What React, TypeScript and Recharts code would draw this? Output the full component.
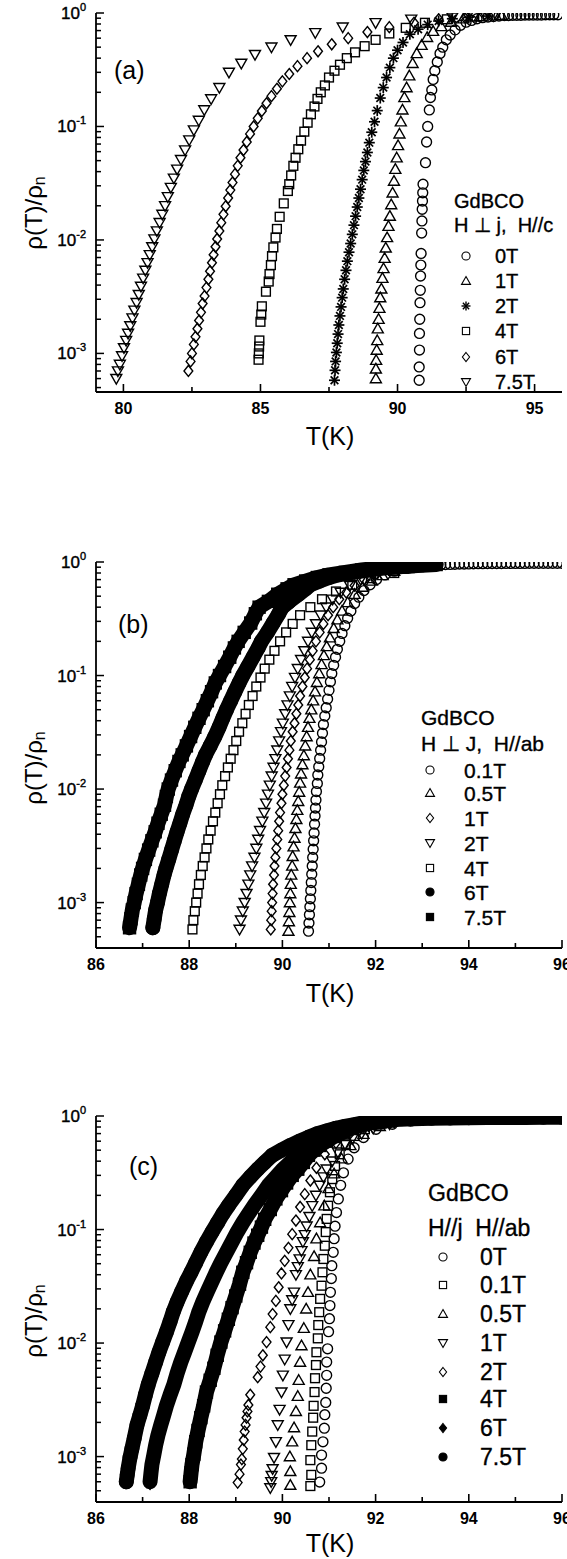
import React from 'react';
import { ComposedChart, Scatter, Line, XAxis, YAxis } from 'recharts';

type Pt = [number, number];
type Kind = 'circle' | 'square' | 'up' | 'down' | 'diamond' | 'star';

const FONT = '"Liberation Sans", Arial, sans-serif';

// tick values shared by the three panels
const Y_MAJOR = [1e-3, 1e-2, 1e-1, 1];
const Y_EXP = ['-3', '-2', '-1', '0'];
const Y_MINOR = [
  2e-4, 3e-4, 4e-4, 5e-4, 6e-4, 7e-4, 8e-4, 9e-4,
  2e-3, 3e-3, 4e-3, 5e-3, 6e-3, 7e-3, 8e-3, 9e-3,
  2e-2, 3e-2, 4e-2, 5e-2, 6e-2, 7e-2, 8e-2, 9e-2,
  0.2, 0.3, 0.4, 0.5, 0.6, 0.7, 0.8, 0.9,
];
const A_X_MAJOR = [80, 85, 90, 95];
const A_X_MINOR = [82.5, 87.5, 92.5];
const BC_X_MAJOR = [86, 88, 90, 92, 94, 96];
const BC_X_MINOR = [87, 89, 91, 93, 95];

// ---------- panel (a): H ⊥ j, H//c  [T (K), rho/rho_n] ----------
const a0T: Pt[] = [
  [90.79, 5.8e-4], [90.79, 7.6e-4], [90.8, 1.07e-3], [90.8, 1.5e-3], [90.81, 2.0e-3], [90.82, 2.8e-3],
  [90.83, 3.6e-3], [90.84, 4.8e-3], [90.85, 6.0e-3], [90.86, 7.6e-3], [90.88, 1.15e-2], [90.89, 1.47e-2],
  [90.9, 1.86e-2], [90.91, 2.2e-2], [90.92, 2.6e-2], [90.93, 3.1e-2], [91.02, 4.8e-2], [91.06, 7.3e-2],
  [91.1, 0.1], [91.16, 0.14], [91.2, 0.18], [91.25, 0.21], [91.3, 0.26], [91.36, 0.31], [91.45, 0.37],
  [91.55, 0.44], [91.65, 0.5], [91.78, 0.58], [91.92, 0.64], [92.1, 0.71], [92.3, 0.78], [92.5, 0.83],
  [92.7, 0.86], [92.9, 0.89], [93.1, 0.91], [93.3, 0.92], [93.5, 0.93], [93.7, 0.94], [93.9, 0.95],
  [94.05, 0.95], [94.2, 0.955], [94.35, 0.955], [94.5, 0.955], [94.65, 0.96], [94.8, 0.96], [94.95, 0.96],
  [95.1, 0.96], [95.25, 0.96], [95.4, 0.965], [95.55, 0.965], [95.7, 0.965], [95.85, 0.965],
];
const a1T: Pt[] = [
  [89.21, 6.0e-4], [89.21, 7.3e-4], [89.22, 8.7e-4], [89.24, 1.07e-3], [89.26, 1.3e-3], [89.28, 1.65e-3],
  [89.31, 2.0e-3], [89.34, 2.5e-3], [89.37, 3.1e-3], [89.41, 3.7e-3], [89.45, 4.6e-3], [89.49, 5.6e-3],
  [89.53, 6.9e-3], [89.57, 8.5e-3], [89.62, 1.05e-2], [89.67, 1.32e-2], [89.72, 1.62e-2], [89.77, 2.05e-2],
  [89.82, 2.6e-2], [89.87, 3.3e-2], [89.92, 4.2e-2], [89.97, 5.3e-2], [90.02, 6.8e-2], [90.07, 8.6e-2],
  [90.12, 0.11], [90.18, 0.14], [90.25, 0.18], [90.33, 0.22], [90.43, 0.28], [90.55, 0.36], [90.7, 0.44],
  [90.88, 0.52], [91.08, 0.61], [91.3, 0.69], [91.6, 0.76], [91.95, 0.83], [92.4, 0.89], [93.0, 0.93],
  [93.8, 0.95],
];
const a2T: Pt[] = [
  [87.7, 5.8e-4], [87.72, 7.1e-4], [87.74, 8.5e-4], [87.77, 1.02e-3], [87.8, 1.23e-3], [87.83, 1.48e-3],
  [87.86, 1.78e-3], [87.9, 2.14e-3], [87.94, 2.57e-3], [87.98, 3.1e-3], [88.02, 3.7e-3], [88.07, 4.5e-3],
  [88.12, 5.4e-3], [88.17, 6.5e-3], [88.23, 7.8e-3], [88.29, 9.3e-3], [88.35, 1.12e-2], [88.41, 1.35e-2],
  [88.47, 1.62e-2], [88.53, 1.95e-2], [88.59, 2.34e-2], [88.65, 2.8e-2], [88.71, 3.4e-2], [88.77, 4.1e-2],
  [88.83, 4.9e-2], [88.9, 5.9e-2], [88.97, 7.2e-2], [89.06, 8.9e-2], [89.16, 0.11], [89.26, 0.138],
  [89.37, 0.178], [89.48, 0.22], [89.6, 0.27], [89.72, 0.33], [89.85, 0.4], [90.0, 0.47], [90.2, 0.55],
  [90.45, 0.65], [90.75, 0.72], [91.1, 0.79], [91.5, 0.85], [92.0, 0.89], [92.6, 0.92], [93.3, 0.94],
];
const a4T: Pt[] = [
  [84.93, 8.8e-4], [84.94, 1.0e-3], [84.95, 1.15e-3], [84.96, 1.3e-3], [85.0, 1.9e-3], [85.03, 2.2e-3],
  [85.05, 2.6e-3], [85.2, 3.5e-3], [85.3, 4.3e-3], [85.33, 5.0e-3], [85.38, 6.0e-3], [85.42, 7.2e-3],
  [85.47, 8.6e-3], [85.55, 1.05e-2], [85.6, 1.25e-2], [85.7, 1.6e-2], [85.85, 2.1e-2], [86.0, 2.7e-2],
  [86.05, 3.1e-2], [86.12, 3.7e-2], [86.2, 4.5e-2], [86.28, 5.3e-2], [86.38, 6.3e-2], [86.48, 7.5e-2],
  [86.6, 9.0e-2], [86.72, 0.108], [86.84, 0.128], [86.97, 0.15], [87.08, 0.175], [87.2, 0.2], [87.35, 0.23],
  [87.5, 0.27], [87.7, 0.31], [87.9, 0.35], [88.15, 0.4], [88.45, 0.45], [88.8, 0.51], [89.2, 0.58],
  [89.7, 0.66], [90.3, 0.74], [91.0, 0.82], [91.8, 0.88], [92.8, 0.93],
];
const a6T: Pt[] = [
  [82.37, 7.0e-4], [82.45, 8.5e-4], [82.5, 1.0e-3], [82.57, 1.2e-3], [82.63, 1.4e-3], [82.7, 1.65e-3],
  [82.76, 1.95e-3], [82.83, 2.3e-3], [82.89, 2.75e-3], [82.96, 3.2e-3], [83.03, 3.8e-3], [83.1, 4.5e-3],
  [83.16, 5.3e-3], [83.23, 6.3e-3], [83.29, 7.4e-3], [83.36, 8.7e-3], [83.42, 1.02e-2], [83.5, 1.2e-2],
  [83.57, 1.42e-2], [83.65, 1.68e-2], [83.73, 1.98e-2], [83.82, 2.34e-2], [83.9, 2.75e-2], [83.98, 3.2e-2],
  [84.07, 3.8e-2], [84.17, 4.5e-2], [84.27, 5.3e-2], [84.38, 6.2e-2], [84.5, 7.3e-2], [84.62, 8.6e-2],
  [84.75, 0.1], [84.9, 0.118], [85.05, 0.137], [85.22, 0.16], [85.4, 0.185], [85.6, 0.215], [85.8, 0.25],
  [86.05, 0.29], [86.35, 0.34], [86.7, 0.4], [87.1, 0.46], [87.6, 0.53], [88.2, 0.6], [88.9, 0.68],
  [89.7, 0.75], [90.6, 0.82], [91.5, 0.88], [92.5, 0.92],
];
const a75T: Pt[] = [
  [79.74, 6.0e-4], [79.8, 7.0e-4], [79.87, 8.0e-4], [79.95, 9.5e-4], [80.02, 1.12e-3], [80.1, 1.3e-3],
  [80.17, 1.5e-3], [80.25, 1.75e-3], [80.33, 2.05e-3], [80.4, 2.4e-3], [80.48, 2.8e-3], [80.56, 3.3e-3],
  [80.64, 3.9e-3], [80.72, 4.6e-3], [80.8, 5.4e-3], [80.88, 6.3e-3], [80.96, 7.4e-3], [81.05, 8.7e-3],
  [81.13, 1.02e-2], [81.22, 1.2e-2], [81.32, 1.42e-2], [81.42, 1.68e-2], [81.52, 2.0e-2], [81.62, 2.4e-2],
  [81.73, 2.9e-2], [81.84, 3.5e-2], [81.96, 4.2e-2], [82.1, 5.1e-2], [82.25, 6.2e-2], [82.4, 7.6e-2],
  [82.57, 9.3e-2], [82.75, 0.113], [82.95, 0.14], [83.2, 0.175], [83.5, 0.22], [83.85, 0.3], [84.3, 0.36],
  [84.8, 0.43], [85.4, 0.5], [86.1, 0.58], [87.0, 0.67], [88.0, 0.75], [89.2, 0.82], [90.5, 0.88],
  [92.0, 0.92], [93.5, 0.95],
];

// ---------- panel (b): H ⊥ J, H//ab ----------
const b01T: Pt[] = [
  [90.56, 5.6e-4], [90.57, 6.6e-4], [90.58, 7.8e-4], [90.59, 9.2e-4], [90.6, 1.08e-3], [90.61, 1.28e-3],
  [90.62, 1.5e-3], [90.63, 1.78e-3], [90.64, 2.1e-3], [90.65, 2.5e-3], [90.66, 2.95e-3], [90.67, 3.5e-3],
  [90.68, 4.1e-3], [90.69, 4.9e-3], [90.7, 5.8e-3], [90.71, 6.8e-3], [90.72, 8.0e-3], [90.73, 9.5e-3],
  [90.75, 1.12e-2], [90.76, 1.33e-2], [90.78, 1.57e-2], [90.8, 1.86e-2], [90.82, 2.2e-2], [90.84, 2.6e-2],
  [90.86, 3.1e-2], [90.88, 3.7e-2], [90.91, 4.4e-2], [90.94, 5.2e-2], [90.97, 6.2e-2], [91.0, 7.4e-2],
  [91.03, 8.8e-2], [91.06, 0.104], [91.1, 0.123], [91.14, 0.145], [91.18, 0.17], [91.23, 0.2],
  [91.28, 0.235], [91.34, 0.275], [91.4, 0.32], [91.47, 0.37], [91.55, 0.43], [91.64, 0.49], [91.75, 0.56],
  [91.88, 0.63], [92.02, 0.7], [92.2, 0.77], [92.4, 0.83], [92.65, 0.88], [92.9, 0.91], [93.0, 0.92],
  [93.1, 0.93], [93.2, 0.935], [93.3, 0.94], [93.4, 0.945], [93.5, 0.95], [93.6, 0.952], [93.7, 0.955],
  [93.8, 0.958], [93.9, 0.96], [94.0, 0.962], [94.1, 0.964], [94.2, 0.966], [94.3, 0.967], [94.4, 0.968],
  [94.5, 0.969], [94.6, 0.97], [94.7, 0.97], [94.8, 0.971], [94.9, 0.971], [95.0, 0.972], [95.1, 0.972],
  [95.2, 0.972], [95.3, 0.973], [95.4, 0.973], [95.5, 0.973], [95.6, 0.974], [95.7, 0.974], [95.8, 0.974],
  [95.9, 0.975], [96.0, 0.975],
];
const b05T: Pt[] = [
  [90.13, 5.6e-4], [90.14, 6.8e-4], [90.15, 8.2e-4], [90.16, 1.0e-3], [90.17, 1.2e-3], [90.18, 1.45e-3],
  [90.19, 1.75e-3], [90.21, 2.1e-3], [90.22, 2.55e-3], [90.24, 3.1e-3], [90.26, 3.7e-3], [90.28, 4.5e-3],
  [90.3, 5.4e-3], [90.32, 6.5e-3], [90.34, 7.8e-3], [90.36, 9.4e-3], [90.38, 1.13e-2], [90.4, 1.36e-2],
  [90.43, 1.64e-2], [90.46, 1.97e-2], [90.49, 2.4e-2], [90.52, 2.9e-2], [90.55, 3.5e-2], [90.58, 4.2e-2],
  [90.62, 5.0e-2], [90.66, 6.0e-2], [90.7, 7.2e-2], [90.74, 8.7e-2], [90.79, 0.104], [90.84, 0.125],
  [90.89, 0.15], [90.95, 0.18], [91.02, 0.215], [91.1, 0.26], [91.18, 0.31], [91.28, 0.37], [91.4, 0.44],
  [91.55, 0.52], [91.72, 0.6], [91.92, 0.68], [92.15, 0.76], [92.4, 0.83], [92.7, 0.88], [93.0, 0.92],
];
const b1T: Pt[] = [
  [89.75, 5.8e-4], [89.76, 7.0e-4], [89.77, 8.4e-4], [89.78, 1.0e-3], [89.79, 1.2e-3], [89.8, 1.45e-3],
  [89.82, 1.75e-3], [89.83, 2.1e-3], [89.85, 2.5e-3], [89.87, 3.0e-3], [89.89, 3.6e-3], [89.91, 4.3e-3],
  [89.93, 5.2e-3], [89.95, 6.2e-3], [89.98, 7.5e-3], [90.0, 9.0e-3], [90.03, 1.08e-2], [90.06, 1.3e-2],
  [90.09, 1.55e-2], [90.12, 1.85e-2], [90.15, 2.2e-2], [90.18, 2.65e-2], [90.22, 3.2e-2], [90.26, 3.8e-2],
  [90.3, 4.6e-2], [90.34, 5.5e-2], [90.38, 6.6e-2], [90.43, 8.0e-2], [90.48, 9.6e-2], [90.53, 0.115],
  [90.59, 0.138], [90.65, 0.165], [90.72, 0.2], [90.8, 0.24], [90.88, 0.285], [90.98, 0.34], [91.09, 0.4],
  [91.22, 0.47], [91.37, 0.54], [91.55, 0.62], [91.75, 0.7], [92.0, 0.78], [92.3, 0.85], [92.65, 0.9],
];
const b2T: Pt[] = [
  [89.08, 5.8e-4], [89.11, 7.0e-4], [89.15, 8.4e-4], [89.19, 1.0e-3], [89.23, 1.2e-3], [89.27, 1.45e-3],
  [89.31, 1.75e-3], [89.35, 2.1e-3], [89.4, 2.5e-3], [89.44, 3.0e-3], [89.48, 3.6e-3], [89.52, 4.3e-3],
  [89.57, 5.2e-3], [89.61, 6.2e-3], [89.65, 7.5e-3], [89.69, 9.0e-3], [89.73, 1.08e-2], [89.77, 1.3e-2],
  [89.81, 1.55e-2], [89.85, 1.85e-2], [89.89, 2.2e-2], [89.93, 2.65e-2], [89.97, 3.2e-2], [90.01, 3.8e-2],
  [90.06, 4.6e-2], [90.11, 5.5e-2], [90.16, 6.6e-2], [90.21, 8.0e-2], [90.27, 9.6e-2], [90.33, 0.115],
  [90.4, 0.138], [90.47, 0.165], [90.55, 0.2], [90.63, 0.24], [90.72, 0.285], [90.82, 0.34], [90.94, 0.4],
  [91.08, 0.47], [91.25, 0.54], [91.45, 0.62], [91.68, 0.7], [91.95, 0.78], [92.3, 0.85], [92.7, 0.9],
];
const b4T: Pt[] = [
  [88.07, 5.8e-4], [88.09, 7.0e-4], [88.12, 8.4e-4], [88.15, 1.0e-3], [88.18, 1.2e-3], [88.21, 1.45e-3],
  [88.25, 1.75e-3], [88.29, 2.1e-3], [88.33, 2.5e-3], [88.37, 3.0e-3], [88.41, 3.6e-3], [88.46, 4.3e-3],
  [88.51, 5.2e-3], [88.56, 6.2e-3], [88.61, 7.5e-3], [88.66, 9.0e-3], [88.71, 1.08e-2], [88.77, 1.3e-2],
  [88.83, 1.55e-2], [88.89, 1.85e-2], [88.95, 2.2e-2], [89.01, 2.65e-2], [89.07, 3.2e-2], [89.14, 3.8e-2],
  [89.21, 4.6e-2], [89.28, 5.5e-2], [89.36, 6.6e-2], [89.44, 8.0e-2], [89.53, 9.6e-2], [89.62, 0.115],
  [89.72, 0.138], [89.83, 0.165], [89.95, 0.2], [90.08, 0.24], [90.22, 0.285], [90.38, 0.34], [90.6, 0.4],
  [90.85, 0.47], [91.15, 0.55], [91.5, 0.63], [91.9, 0.72], [92.4, 0.8],
];
const b6T: Pt[] = [
  [87.22, 6.0e-4], [87.25, 7.2e-4], [87.28, 8.6e-4], [87.32, 1.0e-3], [87.36, 1.2e-3], [87.41, 1.45e-3],
  [87.46, 1.75e-3], [87.5, 2.0e-3], [87.56, 2.4e-3], [87.62, 2.9e-3], [87.68, 3.5e-3], [87.74, 4.2e-3],
  [87.8, 5.0e-3], [87.86, 6.0e-3], [87.93, 7.2e-3], [87.99, 8.6e-3], [88.05, 1.0e-2], [88.13, 1.2e-2],
  [88.21, 1.45e-2], [88.29, 1.75e-2], [88.35, 2.0e-2], [88.45, 2.4e-2], [88.55, 2.9e-2], [88.64, 3.5e-2],
  [88.72, 4.2e-2], [88.8, 5.0e-2], [88.89, 6.0e-2], [88.98, 7.2e-2], [89.07, 8.6e-2], [89.15, 0.1],
  [89.26, 0.12], [89.37, 0.145], [89.48, 0.175], [89.55, 0.2], [89.68, 0.24], [89.8, 0.29], [89.92, 0.35],
  [90.0, 0.4], [90.15, 0.45], [90.35, 0.52], [90.5, 0.58], [90.6, 0.63], [90.8, 0.68], [91.0, 0.73],
  [91.2, 0.77], [91.5, 0.81], [91.85, 0.85], [92.2, 0.89], [92.7, 0.92],
];
const b75T: Pt[] = [
  [86.72, 6.0e-4], [86.75, 7.2e-4], [86.78, 8.6e-4], [86.82, 1.0e-3], [86.86, 1.2e-3], [86.91, 1.45e-3],
  [86.96, 1.75e-3], [87.0, 2.0e-3], [87.06, 2.4e-3], [87.13, 2.9e-3], [87.2, 3.5e-3], [87.27, 4.2e-3],
  [87.33, 5.0e-3], [87.4, 6.0e-3], [87.47, 7.2e-3], [87.51, 8.6e-3], [87.55, 1.0e-2], [87.62, 1.2e-2],
  [87.7, 1.45e-2], [87.78, 1.75e-2], [87.85, 2.0e-2], [87.94, 2.4e-2], [88.03, 2.9e-2], [88.12, 3.5e-2],
  [88.21, 4.2e-2], [88.3, 5.0e-2], [88.39, 6.0e-2], [88.48, 7.2e-2], [88.56, 8.6e-2], [88.65, 0.1],
  [88.76, 0.12], [88.87, 0.145], [88.97, 0.175], [89.05, 0.2], [89.18, 0.24], [89.32, 0.29], [89.42, 0.35],
  [89.5, 0.4], [89.7, 0.45], [89.9, 0.52], [90.1, 0.58], [90.25, 0.63], [90.5, 0.68], [90.75, 0.73],
  [91.0, 0.77], [91.35, 0.81], [91.7, 0.85], [92.1, 0.89], [92.5, 0.91], [92.9, 0.93], [93.3, 0.95],
];

// ---------- panel (c): H//j, H//ab ----------
const c0T: Pt[] = [
  [90.8, 5.96e-4], [90.84, 7.9e-4], [90.84, 1.03e-3], [90.87, 1.35e-3], [90.9, 1.78e-3], [90.91, 2.34e-3],
  [90.93, 3.0e-3], [90.94, 4.0e-3], [90.95, 5.2e-3], [90.95, 6.8e-3], [90.97, 8.9e-3], [90.99, 1.26e-2],
  [91.01, 1.64e-2], [91.02, 2.14e-2], [91.03, 2.8e-2], [91.05, 3.7e-2], [91.06, 4.8e-2], [91.09, 6.3e-2],
  [91.11, 8.3e-2], [91.13, 0.107], [91.16, 0.141], [91.2, 0.186], [91.25, 0.245], [91.31, 0.316],
  [91.41, 0.417], [91.54, 0.525], [91.74, 0.646], [92.01, 0.764], [92.36, 0.845], [92.75, 0.904],
  [93.14, 0.935], [93.3, 0.94], [93.45, 0.945], [93.6, 0.95], [93.75, 0.952], [93.9, 0.955], [94.05, 0.957],
  [94.2, 0.96], [94.35, 0.962], [94.5, 0.963], [94.65, 0.965], [94.8, 0.966], [94.95, 0.967], [95.1, 0.968],
  [95.25, 0.969], [95.4, 0.97], [95.55, 0.97], [95.7, 0.971], [95.85, 0.971], [96.0, 0.972],
];
const c01T: Pt[] = [
  [90.6, 5.5e-4], [90.62, 6.9e-4], [90.6, 9.3e-4], [90.62, 1.26e-3], [90.64, 1.66e-3], [90.66, 2.2e-3],
  [90.67, 2.8e-3], [90.69, 3.7e-3], [90.7, 4.9e-3], [90.72, 6.4e-3], [90.73, 8.3e-3], [90.76, 1.1e-2],
  [90.77, 1.44e-2], [90.79, 1.87e-2], [90.81, 2.45e-2], [90.84, 3.2e-2], [90.86, 4.2e-2], [90.88, 5.5e-2],
  [90.91, 7.2e-2], [90.93, 9.5e-2], [90.95, 0.124], [90.98, 0.162], [91.02, 0.213], [91.07, 0.278],
  [91.13, 0.363], [91.23, 0.46], [91.36, 0.563], [91.54, 0.667], [91.77, 0.764], [92.09, 0.845],
  [92.48, 0.904],
];
const c05T: Pt[] = [
  [90.17, 5.6e-4], [90.17, 7.4e-4], [90.16, 1.0e-3], [90.21, 1.35e-3], [90.25, 1.8e-3], [90.29, 2.5e-3],
  [90.33, 3.4e-3], [90.35, 4.7e-3], [90.38, 6.8e-3], [90.41, 9.5e-3], [90.46, 1.35e-2], [90.51, 2.0e-2],
  [90.55, 2.8e-2], [90.6, 4.0e-2], [90.68, 5.8e-2], [90.73, 8.3e-2], [90.81, 0.115], [90.9, 0.162],
  [90.99, 0.23], [91.11, 0.31], [91.27, 0.42], [91.46, 0.55], [91.74, 0.69], [92.09, 0.81],
];
const c1T: Pt[] = [
  [89.74, 5.3e-4], [89.76, 6.0e-4], [89.77, 6.8e-4], [89.79, 7.8e-4], [89.82, 9.8e-4], [89.86, 1.35e-3],
  [89.9, 1.9e-3], [89.94, 2.6e-3], [89.98, 3.7e-3], [90.01, 5.2e-3], [90.05, 7.2e-3], [90.09, 1.02e-2],
  [90.13, 1.45e-2], [90.17, 2.0e-2], [90.21, 2.4e-2], [90.25, 2.8e-2], [90.29, 4.0e-2], [90.33, 4.7e-2],
  [90.37, 5.5e-2], [90.41, 6.5e-2], [90.44, 7.8e-2], [90.48, 9.0e-2], [90.52, 0.107], [90.58, 0.13],
  [90.64, 0.162], [90.72, 0.2], [90.8, 0.245], [90.88, 0.29], [90.95, 0.34], [91.07, 0.4], [91.19, 0.48],
  [91.35, 0.56], [91.5, 0.63], [91.7, 0.7], [91.95, 0.78], [92.3, 0.85],
];
const c2T: Pt[] = [
  [89.04, 5.9e-4], [89.08, 7.0e-4], [89.11, 8.5e-4], [89.13, 9.5e-4], [89.15, 1.17e-3], [89.17, 1.4e-3],
  [89.19, 1.66e-3], [89.21, 1.9e-3], [89.23, 2.2e-3], [89.25, 2.5e-3], [89.27, 2.85e-3], [89.31, 3.5e-3],
  [89.47, 5.0e-3], [89.53, 6.2e-3], [89.58, 7.8e-3], [89.66, 1.02e-2], [89.74, 1.38e-2], [89.79, 1.8e-2],
  [89.86, 2.35e-2], [89.92, 3.1e-2], [89.98, 4.1e-2], [90.05, 5.3e-2], [90.13, 6.9e-2], [90.21, 9.1e-2],
  [90.29, 0.12], [90.38, 0.158], [90.48, 0.205], [90.6, 0.27], [90.73, 0.35], [90.91, 0.46], [91.15, 0.58],
  [91.46, 0.71], [91.85, 0.82],
];
const c4T: Pt[] = [
  [88.02, 6.0e-4], [88.04, 7.2e-4], [88.06, 8.5e-4], [88.1, 1.05e-3], [88.14, 1.35e-3], [88.19, 1.7e-3],
  [88.25, 2.2e-3], [88.31, 2.8e-3], [88.37, 3.7e-3], [88.45, 4.7e-3], [88.53, 6.0e-3], [88.6, 7.8e-3],
  [88.68, 1.02e-2], [88.76, 1.28e-2], [88.84, 1.62e-2], [88.92, 2.05e-2], [89.0, 2.6e-2], [89.08, 3.3e-2],
  [89.15, 4.2e-2], [89.23, 5.1e-2], [89.31, 6.3e-2], [89.39, 7.6e-2], [89.47, 8.9e-2], [89.55, 0.105],
  [89.62, 0.123], [89.74, 0.15], [89.86, 0.186], [89.98, 0.22], [90.09, 0.257], [90.21, 0.3], [90.33, 0.34],
  [90.45, 0.39], [90.56, 0.45], [90.68, 0.5], [90.8, 0.55], [90.95, 0.6], [91.11, 0.66], [91.3, 0.72],
  [91.5, 0.79], [91.7, 0.84], [91.89, 0.87], [92.2, 0.9],
];
const c6T: Pt[] = [
  [87.16, 6.0e-4], [87.18, 7.2e-4], [87.2, 8.5e-4], [87.24, 1.03e-3], [87.28, 1.26e-3], [87.33, 1.55e-3],
  [87.39, 1.9e-3], [87.45, 2.3e-3], [87.51, 2.8e-3], [87.59, 3.5e-3], [87.67, 4.3e-3], [87.74, 5.4e-3],
  [87.82, 6.8e-3], [87.9, 8.3e-3], [87.98, 1.02e-2], [88.06, 1.25e-2], [88.14, 1.55e-2], [88.21, 1.9e-2],
  [88.29, 2.3e-2], [88.39, 2.85e-2], [88.49, 3.5e-2], [88.58, 4.2e-2], [88.68, 5.1e-2], [88.8, 6.3e-2],
  [88.92, 7.8e-2], [89.03, 9.5e-2], [89.15, 0.115], [89.27, 0.137], [89.39, 0.162], [89.55, 0.2],
  [89.7, 0.245], [89.86, 0.29], [90.01, 0.34], [90.17, 0.39], [90.33, 0.45], [90.48, 0.5], [90.64, 0.55],
  [90.8, 0.6], [90.95, 0.65], [91.15, 0.7], [91.34, 0.76], [91.55, 0.81], [91.73, 0.85], [92.0, 0.89],
  [92.4, 0.92],
];
const c75T: Pt[] = [
  [86.65, 6.0e-4], [86.67, 6.9e-4], [86.69, 7.9e-4], [86.73, 9.8e-4], [86.77, 1.17e-3], [86.82, 1.45e-3],
  [86.88, 1.9e-3], [86.94, 2.3e-3], [87.0, 2.8e-3], [87.06, 3.5e-3], [87.12, 4.3e-3], [87.2, 5.4e-3],
  [87.28, 6.8e-3], [87.35, 8.3e-3], [87.43, 1.02e-2], [87.51, 1.25e-2], [87.59, 1.55e-2], [87.66, 1.9e-2],
  [87.74, 2.3e-2], [87.84, 2.85e-2], [87.94, 3.5e-2], [88.04, 4.2e-2], [88.14, 5.1e-2], [88.25, 6.3e-2],
  [88.37, 7.8e-2], [88.49, 9.5e-2], [88.61, 0.115], [88.72, 0.137], [88.84, 0.162], [89.0, 0.2],
  [89.15, 0.245], [89.31, 0.29], [89.47, 0.34], [89.62, 0.39], [89.78, 0.45], [89.98, 0.5], [90.17, 0.55],
  [90.37, 0.6], [90.56, 0.65], [90.75, 0.7], [90.95, 0.74], [91.15, 0.78], [91.34, 0.81], [91.55, 0.84],
  [91.73, 0.87], [92.0, 0.9], [92.4, 0.93], [92.8, 0.945], [93.2, 0.955], [93.6, 0.96], [94.0, 0.965],
  [94.4, 0.968], [94.8, 0.97], [95.2, 0.972], [95.6, 0.973], [96.0, 0.975],
];

interface Series { name: string; kind: Kind; filled: boolean; pts: Pt[] }

const SERIES_A: Series[] = [
  { name: '0T', kind: 'circle', filled: false, pts: a0T },
  { name: '1T', kind: 'up', filled: false, pts: a1T },
  { name: '2T', kind: 'star', filled: false, pts: a2T },
  { name: '4T', kind: 'square', filled: false, pts: a4T },
  { name: '6T', kind: 'diamond', filled: false, pts: a6T },
  { name: '7.5T', kind: 'down', filled: false, pts: a75T },
];
const SERIES_B: Series[] = [
  { name: '0.1T', kind: 'circle', filled: false, pts: b01T },
  { name: '0.5T', kind: 'up', filled: false, pts: b05T },
  { name: '1T', kind: 'diamond', filled: false, pts: b1T },
  { name: '2T', kind: 'down', filled: false, pts: b2T },
  { name: '4T', kind: 'square', filled: false, pts: b4T },
  { name: '6T', kind: 'circle', filled: true, pts: b6T },
  { name: '7.5T', kind: 'square', filled: true, pts: b75T },
];
const SERIES_C: Series[] = [
  { name: '0T', kind: 'circle', filled: false, pts: c0T },
  { name: '0.1T', kind: 'square', filled: false, pts: c01T },
  { name: '0.5T', kind: 'up', filled: false, pts: c05T },
  { name: '1T', kind: 'down', filled: false, pts: c1T },
  { name: '2T', kind: 'diamond', filled: false, pts: c2T },
  { name: '4T', kind: 'square', filled: true, pts: c4T },
  { name: '6T', kind: 'diamond', filled: true, pts: c6T },
  { name: '7.5T', kind: 'circle', filled: true, pts: c75T },
];

function Mark({ cx, cy, kind, filled, size, sw = 1.4 }: { cx: number; cy: number; kind: Kind; filled: boolean; size: number; sw?: number }) {
  const h = size / 2;
  const p = { fill: filled ? '#000' : 'none', stroke: '#000', strokeWidth: sw };
  switch (kind) {
    case 'circle':
      return <circle cx={cx} cy={cy} r={h * 0.9} {...p} />;
    case 'square':
      return <rect x={cx - h * 0.8} y={cy - h * 0.8} width={h * 1.6} height={h * 1.6} {...p} />;
    case 'up':
      return <polygon points={`${cx},${cy - h} ${cx + h},${cy + h * 0.75} ${cx - h},${cy + h * 0.75}`} {...p} />;
    case 'down':
      return <polygon points={`${cx},${cy + h} ${cx + h},${cy - h * 0.75} ${cx - h},${cy - h * 0.75}`} {...p} />;
    case 'diamond':
      return <polygon points={`${cx},${cy - h} ${cx + h * 0.8},${cy} ${cx},${cy + h} ${cx - h * 0.8},${cy}`} {...p} />;
    default: {
      const d = h * 0.7;
      return (
        <g stroke="#000" strokeWidth={sw + 0.3}>
          <line x1={cx - h} y1={cy} x2={cx + h} y2={cy} />
          <line x1={cx} y1={cy - h} x2={cx} y2={cy + h} />
          <line x1={cx - d} y1={cy - d} x2={cx + d} y2={cy + d} />
          <line x1={cx - d} y1={cy + d} x2={cx + d} y2={cy - d} />
        </g>
      );
    }
  }
}

const XTick = ({ x, y, payload, major }: any) => {
  const isMajor = major.includes(payload.value);
  return (
    <g>
      <line x1={x} x2={x} y1={y} y2={y - (isMajor ? 8 : 5)} stroke="#000" strokeWidth={1.6} />
      {isMajor && (
        <text x={x} y={y + 16} textAnchor="middle" dominantBaseline="central" fontSize={16} fontWeight="bold"
          fontFamily={FONT} fill="#000">
          {payload.value}
        </text>
      )}
    </g>
  );
};

const YTick = ({ x, y, payload }: any) => {
  const i = Y_MAJOR.indexOf(payload.value);
  const isMajor = i >= 0;
  return (
    <g>
      <line x1={x} x2={x + (isMajor ? 8 : 5)} y1={y} y2={y} stroke="#000" strokeWidth={1.5} />
      {isMajor && (
        <text x={x - 10} y={y + 6} textAnchor="end" fontSize={17} fontFamily={FONT} fill="#000"
          stroke="#000" strokeWidth={0.4}>
          10<tspan dy={-8} fontSize={11}>{Y_EXP[i]}</tspan>
        </text>
      )}
    </g>
  );
};

interface PanelProps {
  plotTop: number; plotH: number; xDomain: [number, number]; xMajor: number[]; xMinor: number[];
  yMin: number; series: Series[]; size: number; fillSize: number; band: number;
}

function Panel({ plotTop, plotH, xDomain, xMajor, xMinor, yMin, series, size, fillSize, band }: PanelProps) {
  const yTicks = [...Y_MINOR, ...Y_MAJOR].filter((v) => v > yMin * 1.05).sort((a, b) => a - b);
  const xTicks = [...xMajor, ...xMinor].sort((a, b) => a - b);
  const axis = { stroke: '#000', strokeWidth: 1.8 };
  return (
    <div style={{ position: 'absolute', left: 0, top: plotTop - 13 }}>
      <ComposedChart width={567} height={plotH + 13 + 40} margin={{ top: 13, right: 5, bottom: 0, left: 0 }}>
        <XAxis xAxisId="b" type="number" dataKey="t" domain={xDomain} ticks={xTicks} interval={0}
          tick={(p: any) => <XTick {...p} major={xMajor} />} tickSize={0} tickMargin={0} tickLine={false}
          axisLine={axis} height={40} allowDataOverflow />
        <XAxis xAxisId="t" orientation="top" type="number" domain={xDomain} tick={false} tickLine={false}
          axisLine={axis} height={0} allowDataOverflow />
        <YAxis yAxisId="l" type="number" dataKey="r" scale="log" domain={[yMin, 1]} ticks={yTicks} interval={0}
          tick={(p: any) => <YTick {...p} />} tickSize={0} tickMargin={0} tickLine={false}
          axisLine={axis} width={96} allowDataOverflow />
        <YAxis yAxisId="r" orientation="right" type="number" scale="log" domain={[yMin, 1]} tick={false}
          tickLine={false} axisLine={axis} width={0} allowDataOverflow />
        {series.filter((s) => s.filled).map((s) => (
          <Line key={'band' + s.name} xAxisId="b" yAxisId="l" data={s.pts.map(([t, r]) => ({ t, r }))}
            dataKey="r" stroke="#000" strokeWidth={band} dot={false} activeDot={false}
            strokeLinecap="round" strokeLinejoin="round" isAnimationActive={false} />
        ))}
        {series.map((s) => (
          <Scatter key={s.name} name={s.name} xAxisId="b" yAxisId="l" data={s.pts.map(([t, r]) => ({ t, r }))}
            dataKey="r" isAnimationActive={false}
            shape={(p: any) => <Mark cx={p.cx} cy={p.cy} kind={s.kind} filled={s.filled} size={s.filled ? fillSize : size} />} />
        ))}
      </ComposedChart>
    </div>
  );
}

interface LegendProps {
  x: number; y1: number; y2: number; line2: string; rows: number[]; mx: number; lx: number;
  fs: number; ms: number; series: Series[];
}

function LegendBlock({ x, y1, y2, line2, rows, mx, lx, fs, ms, series }: LegendProps) {
  return (
    <g fontFamily={FONT} fontSize={fs} fill="#000" stroke="#000" strokeWidth={0.35}>
      <text x={x} y={y1} dominantBaseline="central">GdBCO</text>
      <text x={x} y={y2} dominantBaseline="central" style={{ whiteSpace: 'pre' }}>{line2}</text>
      {series.map((s, i) => (
        <g key={s.name}>
          <Mark cx={mx} cy={rows[i]} kind={s.kind} filled={s.filled} size={ms} sw={1.1} />
          <text x={lx} y={rows[i]} dominantBaseline="central">{s.name}</text>
        </g>
      ))}
    </g>
  );
}

function YTitle({ cy }: { cy: number }) {
  return (
    <text transform={`translate(33, ${cy}) rotate(-90)`} textAnchor="middle" dominantBaseline="central"
      fontFamily={FONT} fontSize={24} fill="#000">
      ρ(T)/ρ<tspan dy={6} fontSize={16}>n</tspan>
    </text>
  );
}

export default function App() {
  const t = { fontFamily: FONT, fill: '#000' };
  return (
    <div style={{ position: 'absolute', left: 0, top: 0, width: 567, height: 1559, overflow: 'hidden', background: '#fff' }}>
      <Panel plotTop={13} plotH={379} xDomain={[79, 96]} xMajor={A_X_MAJOR} xMinor={A_X_MINOR}
        yMin={4.57e-4} series={SERIES_A} size={11} fillSize={11} band={0} />
      <Panel plotTop={562} plotH={386} xDomain={[86, 96]} xMajor={BC_X_MAJOR} xMinor={BC_X_MINOR}
        yMin={3.98e-4} series={SERIES_B} size={11} fillSize={15} band={15} />
      <Panel plotTop={1116} plotH={386} xDomain={[86, 96]} xMajor={BC_X_MAJOR} xMinor={BC_X_MINOR}
        yMin={3.98e-4} series={SERIES_C} size={11} fillSize={15} band={15} />
      <svg width={567} height={1559} style={{ position: 'absolute', left: 0, top: 0, pointerEvents: 'none' }}>
        <text x={114} y={70} dominantBaseline="central" fontSize={25} {...t}>(a)</text>
        <text x={118} y={624} dominantBaseline="central" fontSize={25} {...t}>(b)</text>
        <text x={129} y={1166} dominantBaseline="central" fontSize={25} {...t}>(c)</text>
        <text x={330} y={436} textAnchor="middle" dominantBaseline="central" fontSize={25} {...t}>T(K)</text>
        <text x={330} y={993} textAnchor="middle" dominantBaseline="central" fontSize={25} {...t}>T(K)</text>
        <text x={330} y={1543} textAnchor="middle" dominantBaseline="central" fontSize={25} {...t}>T(K)</text>
        <YTitle cy={213} />
        <YTitle cy={768} />
        <YTitle cy={1321} />
        <LegendBlock x={454} y1={201} y2={225} line2={'H ⊥ j,  H//c'} rows={[256, 281, 306, 331, 357, 382]}
          mx={466} lx={495} fs={20} ms={9} series={SERIES_A} />
        <LegendBlock x={421} y1={717} y2={743} line2={'H ⊥ J,  H//ab'} rows={[770, 793, 818, 843, 868, 892, 917]}
          mx={430} lx={464} fs={21} ms={9} series={SERIES_B} />
        <LegendBlock x={428} y1={1193} y2={1228} line2={'H//j  H//ab'}
          rows={[1257, 1285, 1314, 1343, 1372, 1399, 1428, 1457]} mx={443} lx={480} fs={23} ms={9} series={SERIES_C} />
      </svg>
    </div>
  );
}
